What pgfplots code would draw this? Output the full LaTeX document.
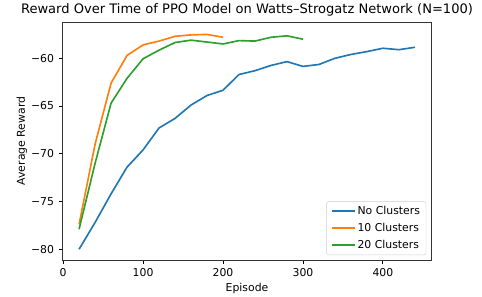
\documentclass[border=0pt]{standalone}
\usepackage{fontspec}
\setmainfont{DejaVu Sans}
\usepackage{pgfplots}
\pgfplotsset{compat=1.18}
\definecolor{tabblue}{HTML}{1F77B4}
\definecolor{taborange}{HTML}{FF7F0E}
\definecolor{tabgreen}{HTML}{2CA02C}
\begin{document}
\begin{tikzpicture}
\begin{axis}[
  at={(0,0)}, anchor=south west,
  scale only axis,
  width=369.4bp, height=238bp,
  xmin=-1, xmax=461, ymin=-81.13, ymax=-56.2,
  xtick={0,100,200,300,400},
  xticklabels={0,100,200,300,400},
  ytick={-80,-75,-70,-65,-60},
  yticklabels={−80,−75,−70,−65,−60},
  tick align=outside,
  major tick length=3.8bp,
  tick style={black, line width=0.87bp},
  axis line style={black!80, line width=0.87bp},
  ticklabel style={font=\fontsize{10.9}{13}\selectfont},
  xticklabel style={yshift=-1bp},
  yticklabel style={xshift=-1bp},
  xtick pos=bottom, ytick pos=left,
  title={Reward Over Time of PPO Model on Watts–Strogatz Network (N=100)},
  title style={font=\fontsize{13.1}{15}\selectfont, yshift=-4bp},
  xlabel={Episode}, ylabel={Average Reward},
  label style={font=\fontsize{10.9}{13}\selectfont},
  ylabel style={yshift=-3bp},
  legend style={at={(1,0)}, anchor=south east, xshift=-5.5bp, yshift=5bp,
    font=\fontsize{10.9}{13}\selectfont, draw=black!20, rounded corners=2pt,
    inner xsep=4bp, inner ysep=3bp, row sep=3bp},
  legend cell align=left,
  legend image code/.code={\draw[#1, line width=2bp] (0bp,0bp) -- (23bp,0bp);},
  every axis plot/.append style={line width=1.64bp},
]
\addplot[color=tabblue] coordinates {
(20,-80.0) (40,-77.2) (60,-74.2) (80,-71.4) (100,-69.6) (120,-67.3) (140,-66.3)
(160,-64.9) (180,-63.9) (200,-63.35) (220,-61.7) (240,-61.3) (260,-60.75)
(280,-60.35) (300,-60.85) (320,-60.65) (340,-60.0) (360,-59.6) (380,-59.3)
(400,-58.95) (420,-59.1) (440,-58.85)};
\addlegendentry{No Clusters}
\addplot[color=taborange] coordinates {
(20,-77.4) (40,-69.0) (60,-62.6) (80,-59.7) (100,-58.6) (120,-58.2) (140,-57.7)
(160,-57.55) (180,-57.5) (200,-57.8)};
\addlegendentry{10 Clusters}
\addplot[color=tabgreen] coordinates {
(20,-77.9) (40,-71.0) (60,-64.7) (80,-62.1) (100,-60.05) (120,-59.15) (140,-58.35)
(160,-58.1) (180,-58.3) (200,-58.5) (220,-58.15) (240,-58.2) (260,-57.8)
(280,-57.65) (300,-58.0)};
\addlegendentry{20 Clusters}
\end{axis}
\pgfresetboundingbox
\path (-62.3bp,-37bp) rectangle (419.7bp,260bp);
\end{tikzpicture}
\end{document}
